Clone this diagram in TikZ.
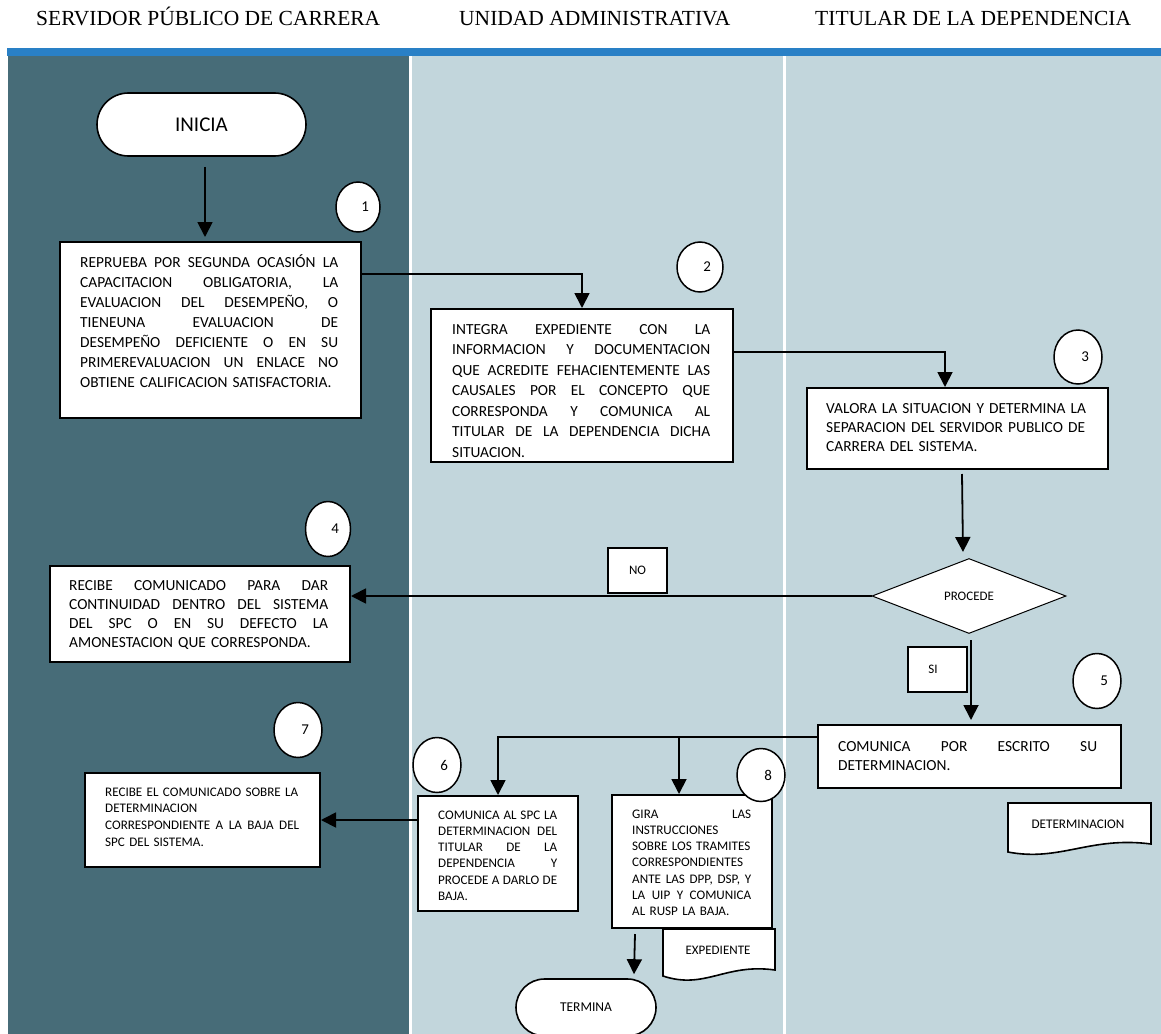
\documentclass[tikz,border=0pt]{standalone}
\usepackage{fontspec}
\setmainfont{Carlito}
\newfontfamily\hdrfont{Liberation Serif}
\usetikzlibrary{shapes.geometric,shapes.misc,arrows.meta,calc}

\definecolor{lanedark}{HTML}{476C78}
\definecolor{lanelight}{HTML}{C2D6DC}
\definecolor{bandblue}{HTML}{2980C6}

% width of the text block inside a box
\newlength{\jw}
% a line stretched to the full block width (justified line)
\newcommand{\fullline}[1]{\leavevmode\hbox to \jw{\spaceskip=\fontdimen2\font plus 1fil\relax\xspaceskip=\spaceskip #1}}
% a line kept at its natural width, flush left
\newcommand{\plainline}[1]{\leavevmode\hbox to \jw{#1\hfil}}
% step number pushed to the right inside its ellipse
\newcommand{\stepnum}[1]{\makebox[22pt][r]{#1}}

\tikzset{
  box/.style={rectangle, draw=black, fill=white, line width=2pt, inner sep=0pt, anchor=north west},
  numc/.style={ellipse, draw=black, fill=white, line width=1.5pt, minimum width=48pt, minimum height=55pt, inner sep=0pt, font=\fontsize{15}{17}\selectfont},
  term/.style={rounded rectangle, draw=black, fill=white, line width=1.6pt, inner sep=0pt},
  tag/.style={rectangle, draw=black, fill=white, line width=2pt, inner sep=0pt, font=\fontsize{13}{15}\selectfont},
  blockw/.style={text width=#1, execute at begin node={\setlength{\jw}{#1}}},
  bigtxt/.style={anchor=base west, inner sep=0pt, align=left, font=\fontsize{15.4}{20}\selectfont},
  smalltxt/.style={anchor=base west, inner sep=0pt, align=left, font=\fontsize{13.1}{16.5}\selectfont},
  lane/.style={anchor=base west, inner sep=0pt, font=\hdrfont\fontsize{21.5}{24}\selectfont},
  conn/.style={line width=1.8pt},
  arr/.style={conn, -{Triangle[length=15pt,width=15pt]}},
  docl/.style={draw=black, fill=white, line width=1.6pt},
}

\begin{document}
\begin{tikzpicture}[x=1pt,y=-1pt]
\useasboundingbox (0,0) rectangle (1161,1033);
\fill[white] (0,0) rectangle (1161,1033);

% swimlane headers
\node[lane] (h1) at (36,26) {SERVIDOR PÚBLICO DE CARRERA};
\node[lane] (h2) at (459,26) {UNIDAD ADMINISTRATIVA};
\node[lane] (h3) at (815,26) {TITULAR DE LA DEPENDENCIA};

% header band and lanes
\fill[bandblue] (7,48) rectangle (1161,56);
\fill[lanedark] (8,56) rectangle (409,1040);
\fill[lanelight] (412,56) rectangle (783,1040);
\fill[lanelight] (786,56) rectangle (1161,1040);

% start / end
\node[term, minimum width=209pt, minimum height=63pt, font=\fontsize{21}{24}\selectfont] (ini) at (201.5,124.5) {INICIA};
\node[term, minimum width=140pt, minimum height=57pt, font=\fontsize{13.5}{16}\selectfont] (fin) at (586,1007.5) {TERMINA};

% process boxes
\node[box, minimum width=301pt, minimum height=176pt] (b1) at (59,241) {};
\node[box, minimum width=302pt, minimum height=153pt] (b2) at (430,308) {};
\node[box, minimum width=301pt, minimum height=81pt]  (b3) at (806,387) {};
\node[box, minimum width=300pt, minimum height=96pt]  (b4) at (49,565) {};
\node[box, minimum width=303pt, minimum height=63pt]  (b5) at (817,724) {};
\node[box, minimum width=160pt, minimum height=115pt] (b6) at (417,795) {};
\node[box, minimum width=235pt, minimum height=94pt]  (b7) at (84,772) {};
\node[box, minimum width=160pt, minimum height=133pt] (b8) at (611,794) {};

% decision
\node[diamond, draw=black, fill=white, line width=1pt, minimum width=194pt, minimum height=75pt, inner sep=0pt, font=\fontsize{13}{15}\selectfont] (dia) at (969,596) {PROCEDE};

% branch labels
\node[tag, minimum width=59pt, minimum height=45pt] (no) at (637.5,570.5) {NO};
\node[tag, minimum width=59pt, minimum height=45pt] (si) at (937.5,669.5) {\hspace*{-9pt}SI};

% box texts
\node[bigtxt, blockw=258pt] (t1) at (80,267) {%
\fullline{REPRUEBA POR SEGUNDA OCASIÓN LA}\\
\fullline{CAPACITACION OBLIGATORIA, LA}\\
\fullline{EVALUACION DEL DESEMPEÑO, O}\\
\fullline{TIENEUNA EVALUACION DE}\\
\fullline{DESEMPEÑO DEFICIENTE O EN SU}\\
\fullline{PRIMEREVALUACION UN ENLACE NO}\\
\plainline{OBTIENE CALIFICACION SATISFACTORIA.}};

\node[bigtxt, blockw=258pt, font=\fontsize{15.4}{20.5}\selectfont] (t2) at (452,334) {%
\fullline{INTEGRA EXPEDIENTE CON LA}\\
\fullline{INFORMACION Y DOCUMENTACION}\\
\fullline{QUE ACREDITE FEHACIENTEMENTE LAS}\\
\fullline{CAUSALES POR EL CONCEPTO QUE}\\
\fullline{CORRESPONDA Y COMUNICA AL}\\
\fullline{TITULAR DE LA DEPENDENCIA DICHA}\\
\plainline{SITUACION.}};

\node[bigtxt, blockw=262pt, font=\fontsize{15.4}{19.3}\selectfont] (t3) at (826,413) {%
\plainline{VALORA LA SITUACION Y DETERMINA LA}\\
\plainline{SEPARACION DEL SERVIDOR PUBLICO DE}\\
\plainline{CARRERA DEL SISTEMA.}};

\node[bigtxt, blockw=259pt, font=\fontsize{15.4}{19.3}\selectfont] (t4) at (69,590) {%
\fullline{RECIBE COMUNICADO PARA DAR}\\
\fullline{CONTINUIDAD DENTRO DEL SISTEMA}\\
\fullline{DEL SPC O EN SU DEFECTO LA}\\
\plainline{AMONESTACION QUE CORRESPONDA.}};

\node[bigtxt, blockw=259pt, font=\fontsize{15.4}{19}\selectfont] (t5) at (838,751) {%
\fullline{COMUNICA POR ESCRITO SU}\\
\plainline{DETERMINACION.}};

\node[smalltxt, blockw=119pt, font=\fontsize{13.1}{16.3}\selectfont] (t6) at (438,819) {%
\fullline{COMUNICA AL SPC LA}\\
\fullline{DETERMINACION DEL}\\
\fullline{TITULAR DE LA}\\
\fullline{DEPENDENCIA Y}\\
\fullline{PROCEDE A DARLO DE}\\
\plainline{BAJA.}};

\node[smalltxt, blockw=194pt, font=\fontsize{13.1}{16.7}\selectfont] (t7) at (105,796) {%
\plainline{RECIBE EL COMUNICADO SOBRE LA}\\
\plainline{DETERMINACION}\\
\fullline{CORRESPONDIENTE A LA BAJA DEL}\\
\plainline{SPC DEL SISTEMA.}};

\node[smalltxt, blockw=119pt, font=\fontsize{13.1}{16.3}\selectfont] (t8) at (632,818) {%
\fullline{GIRA LAS}\\
\plainline{INSTRUCCIONES}\\
\plainline{SOBRE LOS TRAMITES}\\
\plainline{CORRESPONDIENTES}\\
\fullline{ANTE LAS DPP, DSP, Y}\\
\fullline{LA UIP Y COMUNICA}\\
\plainline{AL RUSP LA BAJA.}};

% document symbols
\draw[docl] (663,929) -- (775,929) -- (775,970) .. controls (725,963) and (705,990) .. (663,976) -- cycle;
\node[font=\fontsize{13}{15}\selectfont, inner sep=0pt] (dexp) at (718,950) {EXPEDIENTE};
\draw[docl] (1008,803) -- (1151,803) -- (1151,844) .. controls (1090,836) and (1060,862) .. (1008,852) -- cycle;
\node[font=\fontsize{13.2}{15}\selectfont, inner sep=0pt] (ddet) at (1078,824) {DETERMINACION};

% step numbers
\node[numc, minimum width=44pt, minimum height=50pt] (n1) at (358,207) {\stepnum{1}};
\node[numc, minimum width=46pt, minimum height=50pt] (n2) at (700,267) {\stepnum{2}};
\node[numc, minimum width=48pt, minimum height=54pt] (n3) at (1078,357) {\stepnum{3}};
\node[numc, minimum width=45pt, minimum height=55pt] (n4) at (328,529) {\stepnum{4}};
\node[numc] (n5) at (1097,681) {\stepnum{5}};
\node[numc] (n6) at (437,765) {\stepnum{6}};
\node[numc] (n7) at (298,730) {\stepnum{7}};
\node[numc, minimum height=53pt] (n8) at (761,775) {\stepnum{8}};

% connectors
\draw[arr] ([shift={(3.5,10)}]ini.south) -- ($(ini.south |- b1.north)+(3.5,-4)$);
\draw[arr] ([yshift=-33pt]b1.north east) -| (b2.north);
\draw[arr] ([yshift=-44pt]b2.north east) -| ([xshift=-12.5pt]b3.north);
\draw[arr] ([shift={(4.5,4)}]b3.south) -- ([shift={(-6,-6)}]dia.north);
\draw[arr] (dia.west) -- (dia.west -| b4.east);
\draw[arr] ([shift={(2,6)}]dia.south) -- ($(dia.south |- b5.north)+(2,-4)$);
\coordinate (split) at ($(b5.north west)+(0,13)$);
\coordinate (b8in) at ($(b8.north)+(-13,0)$);
\draw[arr] (split) -| (b6.north);
\draw[arr] (b8in |- split) -- (b8in);
\draw[arr] (b7.east -| b6.west) -- (b7.east);
\draw[arr] ($(b8.south)+(-57,5)$) -- ($(fin.north)+(48,-4)$);
\end{tikzpicture}
\end{document}
